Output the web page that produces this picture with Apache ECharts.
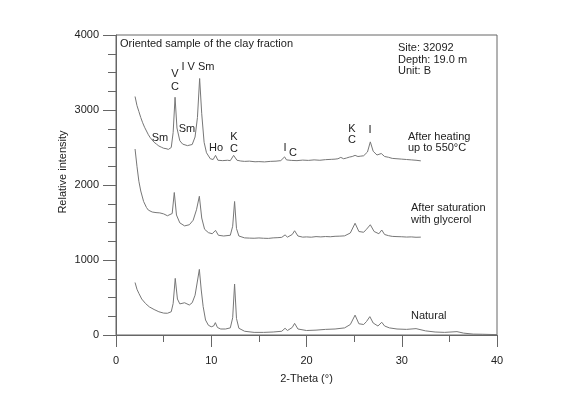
<!DOCTYPE html>
<html>
<head>
<meta charset="utf-8">
<script src="https://cdn.jsdelivr.net/npm/echarts@6/dist/echarts.min.js"></script>
<style>
  html, body { margin: 0; padding: 0; background: #fff; }
  #chart { width: 580px; height: 395px; }
</style>
</head>
<body>
<div id="chart"></div>
<script>
// 2-Theta positions and intensities
const heatTheta = [2.0, 2.2, 2.4, 2.6, 2.8, 3.0, 3.2, 3.4, 3.6, 3.8, 4.0, 4.25, 4.5, 4.75, 5.0, 5.25, 5.5, 5.8, 6.0, 6.2, 6.4, 6.7, 7.0, 7.5, 8.0, 8.3, 8.55, 8.78, 9.0, 9.25, 9.5, 9.9, 10.2, 10.45, 10.7, 11.2, 11.7, 12.0, 12.35, 12.7, 13.1, 13.5, 14.0, 14.6, 15.0, 15.6, 16.2, 16.8, 17.3, 17.5, 17.7, 17.9, 18.4, 19.0, 19.6, 20.2, 20.8, 21.4, 22.0, 22.6, 23.0, 23.3, 23.6, 23.9, 24.2, 24.5, 24.8, 25.1, 25.4, 25.7, 26.0, 26.4, 26.7, 27.0, 27.4, 27.85, 28.2, 28.6, 29.0, 29.5, 30.0, 30.5, 31.0, 31.5, 32.0];
const heatInt = [3180, 3060, 2980, 2900, 2830, 2770, 2720, 2670, 2630, 2600, 2570, 2545, 2520, 2505, 2490, 2485, 2475, 2500, 2700, 3170, 2760, 2590, 2545, 2525, 2540, 2640, 2900, 3420, 2950, 2570, 2430, 2350, 2340, 2395, 2330, 2325, 2330, 2325, 2395, 2330, 2320, 2315, 2318, 2310, 2312, 2308, 2315, 2318, 2325, 2340, 2375, 2335, 2328, 2325, 2332, 2328, 2335, 2330, 2338, 2342, 2345, 2350, 2368, 2350, 2360, 2372, 2380, 2395, 2380, 2385, 2390, 2440, 2575, 2450, 2400, 2420, 2380, 2370, 2355, 2350, 2345, 2340, 2335, 2330, 2322];

const glyTheta = [2.0, 2.2, 2.4, 2.6, 2.9, 3.2, 3.4, 3.6, 3.8, 4.0, 4.2, 4.4, 4.6, 4.8, 5.0, 5.2, 5.4, 5.6, 5.9, 6.12, 6.35, 6.7, 7.2, 7.7, 8.1, 8.45, 8.75, 9.0, 9.3, 9.7, 10.1, 10.45, 10.75, 11.3, 12.0, 12.25, 12.45, 12.65, 12.9, 13.5, 14.0, 14.5, 15.0, 15.5, 16.0, 16.5, 17.0, 17.4, 17.75, 18.0, 18.5, 18.75, 19.1, 19.6, 20.0, 20.5, 21.0, 21.5, 22.0, 22.5, 23.0, 23.5, 24.0, 24.6, 25.1, 25.5, 26.0, 26.3, 26.7, 27.1, 27.6, 27.9, 28.2, 28.6, 29.0, 29.5, 30.0, 30.5, 31.0, 31.5, 32.0];
const glyInt = [2480, 2250, 2050, 1920, 1780, 1700, 1665, 1650, 1640, 1648, 1632, 1640, 1628, 1635, 1615, 1605, 1590, 1565, 1620, 1900, 1600, 1495, 1455, 1470, 1530, 1670, 1850, 1560, 1410, 1365, 1350, 1395, 1330, 1320, 1330, 1450, 1780, 1420, 1320, 1295, 1292, 1290, 1294, 1290, 1288, 1295, 1298, 1302, 1335, 1305, 1340, 1390, 1320, 1305, 1308, 1304, 1312, 1308, 1313, 1310, 1316, 1318, 1322, 1360, 1490, 1380, 1370, 1410, 1470, 1380, 1350, 1400, 1340, 1325, 1315, 1312, 1310, 1306, 1308, 1303, 1305];

const natTheta = [2.0, 2.2, 2.4, 2.7, 3.1, 3.5, 4.0, 4.5, 5.0, 5.4, 5.8, 6.0, 6.22, 6.45, 6.7, 6.9, 7.2, 7.45, 7.7, 8.0, 8.3, 8.55, 8.75, 8.95, 9.15, 9.4, 9.7, 10.0, 10.25, 10.43, 10.65, 11.0, 11.5, 12.0, 12.25, 12.45, 12.65, 12.9, 13.5, 14.5, 15.5, 16.5, 17.4, 17.75, 18.0, 18.5, 18.75, 19.1, 20.0, 21.0, 22.0, 23.0, 24.0, 24.6, 25.1, 25.5, 26.0, 26.3, 26.65, 27.0, 27.5, 27.9, 28.2, 28.7, 29.5, 30.5, 31.5, 32.5, 33.5, 34.5, 35.8, 36.5, 37.5, 38.5, 40.0];
const natInt = [700, 610, 555, 480, 420, 375, 340, 310, 292, 290, 310, 420, 755, 480, 415, 400, 430, 415, 400, 430, 530, 720, 875, 600, 380, 200, 130, 110, 120, 165, 100, 80, 80, 95, 230, 680, 220, 90, 50, 35, 35, 40, 50, 90, 60, 100, 155, 80, 60, 65, 75, 80, 95, 140, 265, 150, 140, 180, 245, 160, 120, 170, 120, 95, 80, 75, 85, 55, 40, 35, 45, 25, 12, 10, 5];

const pairs = (xs, ys) => xs.map((x, i) => [x, ys[i]])

const FONT = '"Liberation Sans", Arial, sans-serif'
const TXT = '#222'
const AXIS = '#666'
const LINE = '#777'

const label = (text, x, y, align) => ({
  type: 'text',
  style: {
    text: text,
    x: x,
    y: y,
    font: '11px ' + FONT,
    fill: TXT,
    textAlign: align || 'center',
    textVerticalAlign: 'middle',
  },
})

const chart = echarts.init(document.getElementById('chart'))

const lineSeries = (data) => ({
  type: 'line',
  data: data,
  showSymbol: false,
  smooth: false,
  lineStyle: { color: LINE, width: 1 },
  silent: true,
})

chart.setOption({
  animation: false,
  backgroundColor: '#fff',
  grid: {
    left: 116,
    right: 83,
    top: 35,
    bottom: 60,
    show: true,
    borderColor: AXIS,
    borderWidth: 1,
  },
  xAxis: {
    type: 'value',
    min: 0,
    max: 40,
    interval: 10,
    name: '2-Theta (°)',
    nameLocation: 'middle',
    nameGap: 38,
    nameTextStyle: { fontFamily: FONT, fontSize: 11, color: TXT },
    axisLine: { lineStyle: { color: AXIS } },
    axisTick: { length: 12, lineStyle: { color: AXIS } },
    minorTick: { show: true, splitNumber: 2, length: 7, lineStyle: { color: AXIS } },
    axisLabel: { fontFamily: FONT, fontSize: 11, color: TXT, margin: 20 },
    splitLine: { show: false },
  },
  yAxis: {
    type: 'value',
    min: 0,
    max: 4000,
    interval: 1000,
    axisLine: { show: true, lineStyle: { color: AXIS } },
    axisTick: { show: true, length: 13, lineStyle: { color: AXIS } },
    minorTick: { show: true, splitNumber: 4, length: 8, lineStyle: { color: AXIS } },
    axisLabel: { fontFamily: FONT, fontSize: 11, color: TXT, margin: 17, formatter: (v) => String(v) },
    splitLine: { show: false },
  },
  series: [
    lineSeries(pairs(heatTheta, heatInt)),
    lineSeries(pairs(glyTheta, glyInt)),
    lineSeries(pairs(natTheta, natInt)),
  ],
  graphic: [
    {
      type: 'text',
      x: 63,
      y: 172,
      rotation: Math.PI / 2,
      style: {
        text: 'Relative intensity',
        font: '11px ' + FONT,
        fill: TXT,
        textAlign: 'center',
        textVerticalAlign: 'middle',
      },
    },
    label('Oriented sample of the clay fraction', 120, 44, 'left'),
    label('Site: 32092', 398, 48, 'left'),
    label('Depth: 19.0 m', 398, 59.5, 'left'),
    label('Unit: B', 398, 71, 'left'),
    label('V', 175, 73.5),
    label('C', 175, 87),
    label('I V Sm', 198, 67),
    label('Sm', 160, 138),
    label('Sm', 187, 129),
    label('Ho', 216, 148),
    label('K', 234, 137),
    label('C', 234, 148.5),
    label('I', 285, 148),
    label('C', 293, 152.5),
    label('K', 352, 128.5),
    label('C', 352, 139.5),
    label('I', 370, 130),
    label('After heating', 408, 136.5, 'left'),
    label('up to 550°C', 408, 147.5, 'left'),
    label('After saturation', 411, 207.5, 'left'),
    label('with glycerol', 411, 220, 'left'),
    label('Natural', 411, 315.5, 'left'),
  ],
})
</script>
</body>
</html>
